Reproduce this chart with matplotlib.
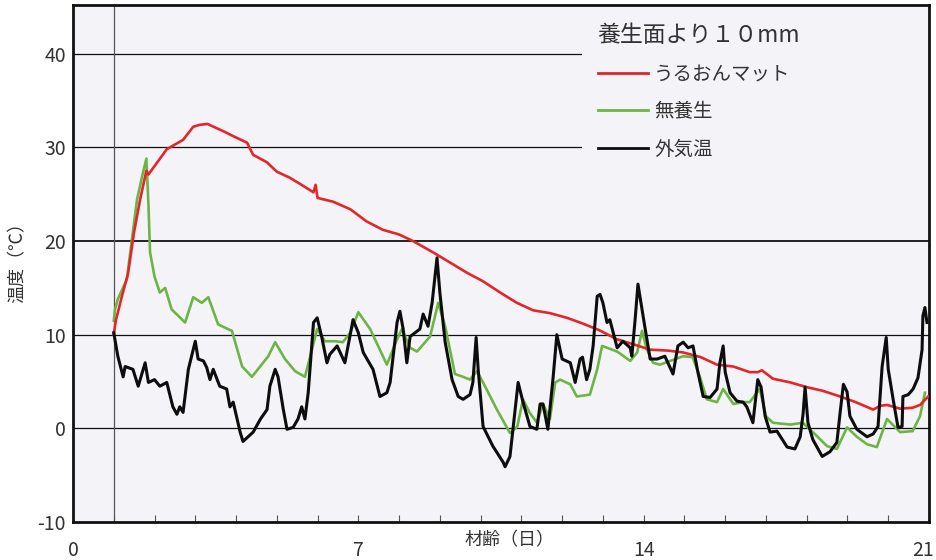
import matplotlib
matplotlib.use("Agg")
import matplotlib.pyplot as plt
from matplotlib.patches import Rectangle
from matplotlib.transforms import ScaledTranslation

plt.rcParams['font.family'] = ['Noto Sans CJK JP', 'DejaVu Sans']

# ---- data ----
red_days = [1.0, 1.05, 1.2, 1.35, 1.5, 1.65, 1.8, 1.85, 2.0, 2.3, 2.7, 2.95, 3.1, 3.3, 3.5, 3.7,
            3.93, 4.27, 4.42, 4.76, 5.0, 5.3, 5.57, 5.9, 5.95, 6.0, 6.38, 6.8, 7.2, 7.6, 8.0, 8.34,
            8.83, 9.25, 9.67, 10.06, 10.48, 10.89, 11.29, 11.7, 12.12, 12.5, 12.9, 13.35, 13.8,
            14.16, 14.6, 14.97, 15.4, 15.8, 16.2, 16.6, 16.8, 16.9, 17.17, 17.6, 18.0, 18.4,
            18.82, 19.2, 19.63, 19.8, 19.97, 20.29, 20.6, 20.78, 20.98]
red_temp = [10.0, 11.5, 14.1, 16.5, 21.0, 24.5, 27.5, 27.1, 28.0, 29.8, 30.8, 32.2, 32.4, 32.5,
            32.1, 31.7, 31.2, 30.5, 29.2, 28.4, 27.4, 26.8, 26.1, 25.2, 26.0, 24.6, 24.2, 23.4,
            22.1, 21.2, 20.7, 20.0, 18.8, 17.7, 16.6, 15.7, 14.5, 13.4, 12.6, 12.3, 11.8, 11.2,
            10.5, 9.5, 8.9, 8.4, 8.3, 8.1, 7.6, 6.8, 6.6, 6.0, 6.0, 6.2, 5.3, 4.9, 4.4, 4.0, 3.4,
            2.8, 2.0, 2.4, 2.5, 2.1, 2.2, 2.5, 3.4]

green_days = [1.0, 1.03, 1.1, 1.32, 1.57, 1.7, 1.8, 1.85, 1.89, 2.0, 2.13, 2.26, 2.42, 2.75, 2.95,
              3.16, 3.32, 3.56, 3.9, 4.15, 4.39, 4.79, 4.96, 5.2, 5.45, 5.69, 5.86, 5.99, 6.18,
              6.43, 6.62, 6.8, 7.0, 7.29, 7.7, 7.95, 8.07, 8.27, 8.44, 8.76, 8.96, 9.13, 9.37,
              9.57, 9.74, 9.91, 10.06, 10.4, 10.72, 10.9, 11.04, 11.2, 11.38, 11.53, 11.7, 11.83,
              11.95, 12.2, 12.36, 12.68, 12.86, 12.98, 13.35, 13.67, 13.84, 13.96, 14.08, 14.23,
              14.4, 14.65, 14.97, 15.2, 15.38, 15.55, 15.8, 15.95, 16.2, 16.44, 16.6, 16.85, 17.0,
              17.17, 17.6, 17.9, 18.15, 18.5, 18.74, 18.99, 19.23, 19.48, 19.72, 19.97, 20.29,
              20.6, 20.78, 20.9]
green_temp = [11.5, 12.7, 13.8, 15.9, 24.4, 27.0, 28.8, 24.0, 18.8, 16.2, 14.5, 15.0, 12.7, 11.3,
              14.0, 13.4, 14.0, 11.1, 10.4, 6.6, 5.5, 7.7, 9.2, 7.4, 6.1, 5.5, 8.4, 10.6, 9.3,
              9.3, 9.2, 10.2, 12.4, 10.6, 6.8, 9.5, 10.6, 8.6, 8.2, 9.8, 13.4, 10.9, 5.8, 5.5, 5.2,
              6.1, 4.9, 2.0, -0.5, 0.2, 3.1, 1.7, 0.6, 2.6, 1.0, 4.9, 5.2, 4.7, 3.4, 3.6, 6.3, 8.8,
              8.2, 7.2, 8.1, 10.4, 8.4, 7.0, 6.8, 7.2, 7.7, 7.6, 5.5, 3.1, 2.8, 4.2, 2.6, 2.8, 2.8,
              4.2, 1.3, 0.6, 0.4, 0.6, -0.4, -1.9, -2.2, 0.1, -0.9, -1.7, -2.0, 1.0, -0.4, -0.3,
              1.3, 3.8]

black_days = [1.0, 1.1, 1.23, 1.28, 1.47, 1.6, 1.77, 1.85, 2.0, 2.13, 2.3, 2.45, 2.55, 2.62, 2.7,
              2.83, 3.0, 3.07, 3.2, 3.28, 3.36, 3.44, 3.6, 3.77, 3.85, 3.93, 4.1, 4.17, 4.42, 4.6,
              4.76, 4.83, 4.96, 5.03, 5.16, 5.25, 5.4, 5.52, 5.61, 5.69, 5.77, 5.9, 5.99, 6.1,
              6.23, 6.3, 6.48, 6.67, 6.87, 7.0, 7.12, 7.36, 7.53, 7.7, 7.78, 7.95, 8.02, 8.1, 8.19,
              8.27, 8.51, 8.59, 8.71, 8.81, 8.93, 9.0, 9.13, 9.3, 9.45, 9.57, 9.74, 9.81, 9.89,
              9.94, 10.06, 10.3, 10.55, 10.6, 10.72, 10.8, 10.92, 11.04, 11.21, 11.38, 11.46,
              11.53, 11.65, 11.78, 11.87, 12.0, 12.2, 12.32, 12.44, 12.5, 12.6, 12.68, 12.76,
              12.86, 12.93, 13.0, 13.1, 13.17, 13.35, 13.49, 13.67, 13.71, 13.79, 13.86, 13.96,
              14.03, 14.16, 14.33, 14.52, 14.72, 14.84, 14.97, 15.09, 15.21, 15.33, 15.46, 15.63,
              15.8, 15.87, 15.95, 16.0, 16.12, 16.29, 16.44, 16.53, 16.68, 16.8, 16.88, 16.98,
              17.1, 17.27, 17.52, 17.71, 17.84, 17.91, 17.96, 18.03, 18.15, 18.38, 18.57, 18.74,
              18.82, 18.9, 18.99, 19.06, 19.23, 19.48, 19.63, 19.75, 19.85, 19.95, 20.0, 20.12,
              20.24, 20.34, 20.36, 20.49, 20.61, 20.73, 20.83, 20.85, 20.9, 20.95]
black_temp = [10.2, 7.7, 5.5, 6.6, 6.3, 4.5, 7.0, 4.9, 5.2, 4.5, 4.9, 2.3, 1.5, 2.3, 1.7, 6.3, 9.3,
              7.4, 7.2, 6.5, 5.2, 6.3, 4.5, 4.2, 2.3, 2.8, -0.4, -1.4, -0.4, 1.0, 2.0, 4.5, 6.3,
              5.5, 2.0, -0.1, 0.1, 1.0, 2.3, 1.0, 3.8, 11.3, 11.8, 9.8, 7.0, 7.9, 8.8, 7.0, 11.6,
              10.2, 8.1, 6.3, 3.4, 3.8, 4.9, 11.3, 12.5, 10.6, 7.0, 9.8, 10.6, 12.2, 10.9, 13.4,
              18.2, 14.5, 9.2, 5.2, 3.4, 3.1, 3.6, 4.9, 9.7, 6.3, 0.2, -1.9, -3.6, -4.1, -3.0, 0.2,
              4.9, 2.8, 0.2, -0.1, 2.6, 2.6, -0.1, 5.5, 10.0, 7.4, 7.0, 4.9, 7.4, 7.6, 5.2, 6.3,
              8.8, 14.1, 14.3, 13.4, 11.3, 11.6, 8.6, 9.3, 8.6, 7.7, 11.6, 15.4, 12.7, 10.8, 7.4,
              7.4, 7.7, 5.8, 8.8, 9.2, 8.6, 8.8, 6.0, 3.4, 3.3, 4.2, 7.0, 8.8, 6.0, 3.8, 2.9, 2.8,
              2.3, 0.6, 5.2, 4.4, 1.3, -0.4, -0.3, -2.0, -2.2, -0.9, 1.5, 4.4, 0.6, -1.2, -3.0,
              -2.5, -1.5, 1.7, 4.7, 3.9, 1.3, -0.1, -0.9, -0.6, 0.2, 6.6, 9.7, 6.3, 3.1, 0.1, 0.2,
              3.4, 3.6, 4.2, 5.4, 8.4, 12.0, 12.9, 11.3]

series_labels = ['うるおんマット', '無養生', '外気温']
legend_title = '養生面より１０mm'
xticks = [0, 7, 14, 21]
yticks = [-10, 0, 10, 20, 30, 40]

# ---- figure ----
fig = plt.figure(figsize=(9.37, 5.60), dpi=100)
fig.patch.set_facecolor('white')
ax = fig.add_axes([73/937, 1-522/560, (929-73)/937, (522-5)/560])
bg = '#f4f4f8'
ax.set_facecolor(bg)
ax.set_xlim(0, 21)
ax.set_ylim(-10, 45.2)

for y in [0, 10, 20, 30, 40]:
    ax.axhline(y, color='#111111', lw=1.3 if y == 20 else 0.9, zorder=1)
ax.axvline(1, color='#555555', lw=0.9, zorder=1)

# mask behind legend
ax.add_patch(Rectangle((0.595, 0.68), 0.405, 0.32, transform=ax.transAxes,
                       facecolor=bg, edgecolor='none', zorder=2))

l1, = ax.plot(red_days, red_temp, color='#e2262a', lw=1.9, zorder=4, label=series_labels[0])
l2, = ax.plot(green_days, green_temp, color='#6cb545', lw=1.9, zorder=3, label=series_labels[1])
l3, = ax.plot(black_days, black_temp, color='#0d0d0d', lw=2.2, zorder=5, label=series_labels[2])

for s in ax.spines.values():
    s.set_linewidth(2.0)
    s.set_color('#111111')

ax.set_xticks(xticks)
ax.set_xticks(range(0, 22), minor=True)
ax.set_xticklabels([str(t) for t in xticks], fontsize=14, color='#333333')
ax.tick_params(axis='x', which='both', direction='in', length=5, width=0.8, color='#555555',
               pad=13)
# nudge the last label so it stays inside the picture
last = ax.get_xticklabels()[-1]
last.set_transform(last.get_transform() + ScaledTranslation(-6/100, 0, fig.dpi_scale_trans))

ax.set_yticks(yticks)
ax.set_yticklabels([str(t) for t in yticks], fontsize=14, color='#333333')
ax.tick_params(axis='y', length=0, pad=5)

ax.text(0.51, -0.035, '材齢（日）', transform=ax.transAxes, ha='center', va='center',
        fontsize=13, color='#333333')
fig.text(18/937, 1-258/560, '温度（℃）', rotation=90, ha='center', va='center',
         fontsize=13, color='#333333')

leg = ax.legend(handles=[l1, l2, l3], title=legend_title, loc='upper left',
                bbox_to_anchor=(0.613, 0.963), frameon=False, fontsize=14,
                title_fontproperties={'size': 16.5}, handlelength=2.6, handletextpad=0.3,
                labelspacing=0.85, borderpad=0, borderaxespad=0)
leg._legend_box.align = 'left'
leg.get_title().set_color('#333333')
for t in leg.get_texts():
    t.set_color('#333333')
for h in leg.legend_handles:
    h.set_linewidth(2.0)

fig.savefig('out.png', dpi=100)
